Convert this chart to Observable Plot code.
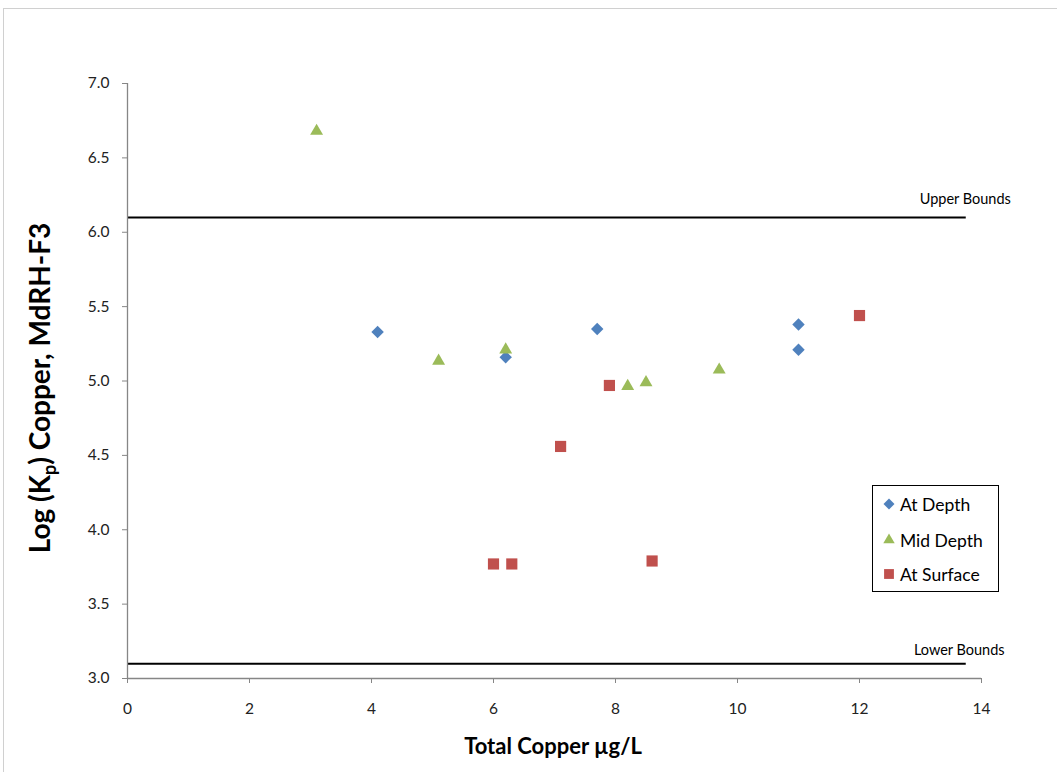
<!DOCTYPE html>
<html><head><meta charset="utf-8">
<script src="https://cdn.jsdelivr.net/npm/d3@7"></script>
<script src="https://cdn.jsdelivr.net/npm/@observablehq/plot@0.6"></script>
<style>
body{margin:0;background:#fff;}
#wrap{position:relative;width:1057px;height:772px;overflow:hidden;font-family:Lato,"Open Sans",sans-serif;}
#frame{position:absolute;left:3px;top:8px;width:1070px;height:780px;border:1px solid #d0d0d0;box-sizing:border-box;}
#chart{position:absolute;left:0;top:0;}
#legend{position:absolute;left:872px;top:485px;width:127px;height:107px;border:1px solid #000;box-sizing:border-box;background:#fff;}
.item{position:absolute;left:0;height:30px;display:flex;align-items:center;font-size:17.5px;color:#000;white-space:nowrap;}
.item svg{margin-left:9px;margin-right:4px;}
</style></head>
<body><div id="wrap"><div id="frame"></div><div id="chart"></div><div id="legend"></div></div>
<script>
// Series
const seriesNames = ["At Depth", "Mid Depth", "At Surface"];
const seriesColors = ["#4F81BD", "#9BBB59", "#C0504D"];
const seriesSymbols = ["diamond2", "triangle", "square"];

const depthX = [4.1, 6.2, 7.7, 11.0, 11.0];
const depthY = [5.33, 5.16, 5.35, 5.38, 5.21];

const midX = [3.1, 5.1, 6.2, 8.2, 8.5, 9.7];
const midY = [6.68, 5.135, 5.21, 4.965, 4.99, 5.075];

const surfX = [6.0, 6.3, 7.1, 7.9, 8.6, 12.0];
const surfY = [3.77, 3.77, 4.56, 4.97, 3.79, 5.44];

// Bounds
const boundNames = ["Upper Bounds", "Lower Bounds"];
const boundValues = [6.1, 3.1];
const boundStart = 0;
const boundEnd = 13.75;

// Ticks
const xTicks = [0, 2, 4, 6, 8, 10, 12, 14];
const yTicks = [3.0, 3.5, 4.0, 4.5, 5.0, 5.5, 6.0, 6.5, 7.0];

const xTitle = "Total Copper \u00b5g/L";

// Build table
const points = [];
[[depthX, depthY], [midX, midY], [surfX, surfY]].forEach(([xs, ys], i) => {
  xs.forEach((x, j) => points.push({series: seriesNames[i], x, y: ys[j]}));
});
const bounds = boundNames.map((name, i) => ({name, y: boundValues[i], x1: boundStart, x2: boundEnd}));

const axisGray = "#868686";
const sizes = {"diamond2": 5.6, "triangle": 4.8, "square": 6.3};

const marks = [
  Plot.ruleY(bounds, {y: "y", x1: "x1", x2: "x2", stroke: "#000", strokeWidth: 2}),
  Plot.text([bounds[0]], {x: "x2", y: "y", text: "name", dx: -1, dy: -18.5, fontSize: 14.5, fill: "#000"}),
  Plot.text([bounds[1]], {x: "x2", y: "y", text: "name", dx: -7, dy: -13.5, fontSize: 14.5, fill: "#000"}),
  Plot.ruleX([0], {stroke: axisGray, strokeWidth: 1.3}),
  Plot.ruleY([3], {stroke: axisGray, strokeWidth: 1.3}),
  Plot.axisX({ticks: xTicks, tickSize: 5, tickPadding: 19, stroke: axisGray, fill: "#222", fontSize: 15.5, label: null, tickFormat: d3.format("d")}),
  Plot.axisY({ticks: yTicks, tickSize: 5, tickPadding: 13, stroke: axisGray, fill: "#222", fontSize: 15.5, label: null, tickFormat: d3.format(".1f")})
];
seriesNames.forEach((s, i) => {
  marks.push(Plot.dot(points.filter(d => d.series === s), {
    x: "x", y: "y", symbol: () => seriesSymbols[i], fill: seriesColors[i], stroke: "none",
    r: sizes[seriesSymbols[i]]
  }));
});

const chart = Plot.plot({
  width: 1057, height: 772,
  marginLeft: 127, marginRight: 76, marginTop: 83, marginBottom: 94,
  style: {fontFamily: "Lato, 'Open Sans', sans-serif", fontSize: "14px", background: "transparent", overflow: "visible"},
  x: {domain: [0, 14]},
  y: {domain: [3, 7]},
  symbol: {domain: seriesSymbols, range: seriesSymbols},
  marks
});
document.getElementById("chart").appendChild(chart);

const svg = d3.select(chart);
svg.append("text")
  .attr("x", 553).attr("y", 754)
  .attr("text-anchor", "middle")
  .attr("font-weight", "bold").attr("font-size", 22).attr("fill", "#000")
  .attr("font-family", "Lato, sans-serif")
  .text(xTitle);

const yt = svg.append("text")
  .attr("transform", "translate(50,388) rotate(-90)")
  .attr("text-anchor", "middle")
  .attr("font-weight", "bold").attr("font-size", 28).attr("fill", "#000")
  .attr("font-family", "Lato, sans-serif");
yt.append("tspan").text("Log (K");
yt.append("tspan").attr("font-size", 18).attr("dy", 6).text("p");
yt.append("tspan").attr("dy", -6).text(") Copper, MdRH-F3");

// Legend
const legend = document.getElementById("legend");
const legendTops = [3, 39, 73];
seriesNames.forEach((s, i) => {
  const item = document.createElement("div");
  item.className = "item";
  item.style.top = legendTops[i] + "px";
  const ns = "http://www.w3.org/2000/svg";
  const sv = document.createElementNS(ns, "svg");
  sv.setAttribute("width", 14); sv.setAttribute("height", 14);
  const path = document.createElementNS(ns, "path");
  const symMap = {"diamond2": d3.symbolDiamond2, "triangle": d3.symbolTriangle, "square": d3.symbolSquare};
  const r = sizes[seriesSymbols[i]] * 0.88;
  path.setAttribute("d", d3.symbol(symMap[seriesSymbols[i]], Math.PI * r * r)());
  path.setAttribute("transform", "translate(7,7)");
  path.setAttribute("fill", seriesColors[i]);
  sv.appendChild(path);
  item.appendChild(sv);
  const t = document.createElement("span");
  t.textContent = s;
  item.appendChild(t);
  legend.appendChild(item);
});
</script>
</body></html>
